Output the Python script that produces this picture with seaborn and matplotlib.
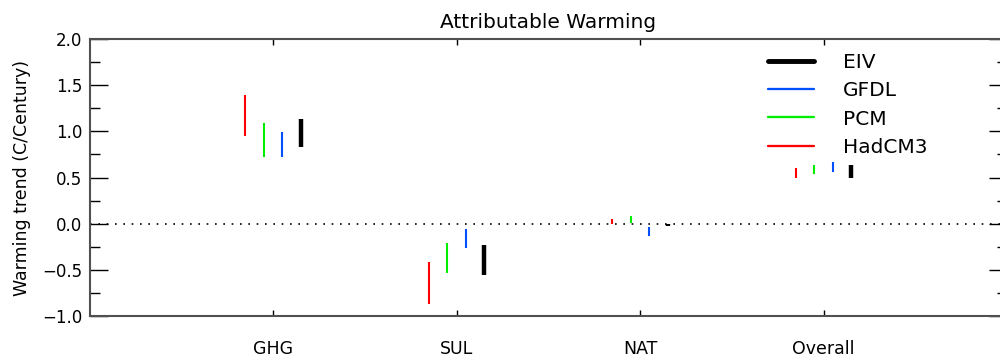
import numpy as np
import pandas as pd
import matplotlib
matplotlib.use("Agg")
import matplotlib.pyplot as plt
import seaborn as sns
from matplotlib.lines import Line2D
from matplotlib.ticker import MultipleLocator, FuncFormatter

# ---- data ----
categories = ["GHG", "SUL", "NAT", "Overall"]
models = ["HadCM3", "PCM", "GFDL", "EIV"]   # left-to-right order within a group

hadcm3_low  = [0.95, -0.865, -0.005, 0.49]
hadcm3_high = [1.39, -0.41, 0.055, 0.60]
pcm_low     = [0.725, -0.53, 0.005, 0.54]
pcm_high    = [1.09, -0.21, 0.085, 0.63]
gfdl_low    = [0.725, -0.265, -0.13, 0.565]
gfdl_high   = [0.99, -0.06, -0.04, 0.67]
eiv_low     = [0.83, -0.56, -0.025, 0.49]
eiv_high    = [1.135, -0.235, -0.005, 0.635]

legend_order = ["EIV", "GFDL", "PCM", "HadCM3"]

lows = {"HadCM3": hadcm3_low, "PCM": pcm_low, "GFDL": gfdl_low, "EIV": eiv_low}
highs = {"HadCM3": hadcm3_high, "PCM": pcm_high, "GFDL": gfdl_high, "EIV": eiv_high}

# ---- styles ----
colors = {"HadCM3": "#ff0000", "PCM": "#00ee00", "GFDL": "#0050ff", "EIV": "#000000"}
widths = {"HadCM3": 1.5, "PCM": 1.5, "GFDL": 1.5, "EIV": 3.2}
dodge = {"HadCM3": -0.15, "PCM": -0.05, "GFDL": 0.05, "EIV": 0.15}

rows = []
for m in models:
    for ci, c in enumerate(categories):
        xpos = ci + 1 + dodge[m]
        rows.append(dict(model=m, seg=f"{m}-{c}", x=xpos, y=lows[m][ci]))
        rows.append(dict(model=m, seg=f"{m}-{c}", x=xpos, y=highs[m][ci]))
df = pd.DataFrame(rows)

sns.set_style("ticks")
plt.rcParams['font.family'] = ['DejaVu Sans']
plt.rcParams['text.color'] = 'black'
plt.rcParams['axes.labelcolor'] = 'black'
plt.rcParams['xtick.color'] = 'black'
plt.rcParams['ytick.color'] = 'black'

fig = plt.figure(figsize=(10, 3.56), dpi=100)
ax = fig.add_axes([0.0895, 0.1124, 0.9175, 0.778])

sns.lineplot(data=df, x="x", y="y", hue="model", size="model",
             sizes=widths, palette=colors, units="seg", estimator=None,
             sort=False, legend=False, ax=ax)
for ln in ax.lines:
    ln.set_solid_capstyle("butt")

ax.axhline(0, color="black", lw=1.2, ls=(0, (1, 4)), zorder=0)

ax.set_xlim(0, 5)
ax.set_ylim(-1, 2)
ax.set_xticks(range(1, len(categories) + 1))
ax.set_xticklabels(categories)
ax.yaxis.set_major_locator(MultipleLocator(0.5))
ax.yaxis.set_minor_locator(MultipleLocator(0.25))
ax.yaxis.set_major_formatter(FuncFormatter(lambda v, p: f"{v:.1f}".replace("-", "\u2212")))

ax.tick_params(axis="y", which="major", direction="in", length=13, width=1,
               left=True, right=True, labelsize=12, pad=5, colors="black")
ax.tick_params(axis="y", which="minor", direction="in", length=7, width=1,
               left=True, right=True, colors="black")
ax.tick_params(axis="x", which="major", direction="in", length=4, width=1,
               top=True, bottom=True, labelsize=12.5, pad=17, colors="black")

for sp in ax.spines.values():
    sp.set_color("#505050")
    sp.set_linewidth(1.5)

ax.set_xlabel("")
ax.set_ylabel("Warming trend (C/Century)", fontsize=12.5, color="black")
ax.yaxis.set_label_coords(-0.064, 0.5)
ax.set_title("Attributable Warming", fontsize=14.5, pad=8, color="black")

handles = [Line2D([0], [0], color=colors[m], lw=widths[m] * 1.1) for m in legend_order]
leg = ax.legend(handles, legend_order, loc="upper left", bbox_to_anchor=(0.7395, 0.948),
                frameon=False, fontsize=14.5, handlelength=2.3, handletextpad=1.4,
                labelspacing=0.45, borderpad=0, borderaxespad=0)
for t in leg.get_texts():
    t.set_color("black")

fig.savefig("out.png", dpi=100)
